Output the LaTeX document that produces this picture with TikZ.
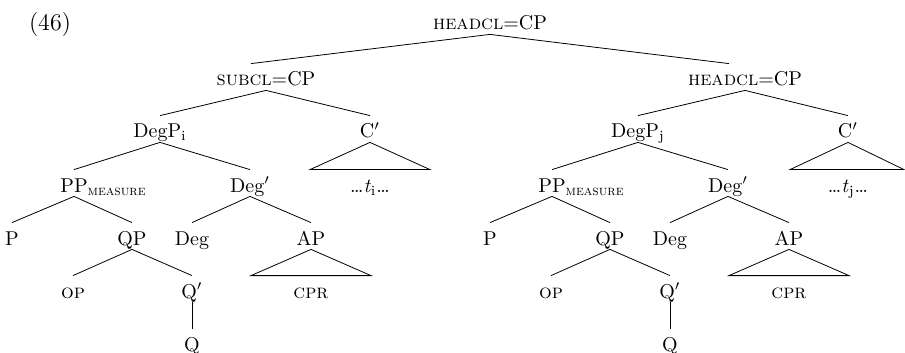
\documentclass[tikz,border=0pt]{standalone}
\usetikzlibrary{calc}
\begin{document}
\begin{tikzpicture}[x=0.5pt,y=-0.5pt,
  lbl/.style={anchor=base,inner sep=0pt,text height=11pt,text depth=2pt},
  tri/.style={line join=miter}]
\useasboundingbox (0,0) rectangle (905,353);
\node[anchor=base,inner sep=0pt] (ex) at (50,31) {\large(46)};

\node[lbl] (top) at (490,30) {\textsc{headcl}=CP};
\node[lbl] (subcl) at (266,86) {\textsc{subcl}=CP};
\node[lbl] (headcl) at (745,86) {\textsc{headcl}=CP};
\draw (top.south) -- ($(subcl.north)+(-15,0)$);
\draw (top.south) -- ($(headcl.north)+(-16,0)$);

% left clause
\node[lbl] (dpL) at (160,138) {DegP\textsubscript{i}};
\node[lbl] (cbL) at (370,138) {C$'$};
\node[lbl] (ppL) at (74,192) {PP\rlap{\textsubscript{\textsc{measure}}}};
\node[lbl] (dbL) at (250,192) {Deg$'$};
\node[lbl] (tL) at (370,192) {\ldots\textit{t}\textsubscript{i}\ldots};
\node[lbl] (pL) at (12,245) {P};
\node[lbl] (qpL) at (132,245) {QP};
\node[lbl] (degL) at (192,245) {Deg};
\node[lbl] (apL) at (311,245) {AP};
\node[lbl] (opL) at (73,298) {\textsc{op}};
\node[lbl] (qbL) at (192,298) {Q$'$};
\node[lbl] (cprL) at (311,298) {\textsc{cpr}};
\node[lbl] (qL) at (192,351) {Q};
\draw (subcl.south) -- (dpL.north);
\draw (subcl.south) -- (cbL.north);
\draw (dpL.south) -- (ppL.north);
\draw (dpL.south) -- (dbL.north);
\draw[tri] (cbL.south) -- ($(tL.north)+(-60,0)$) -- ($(tL.north)+(60,0)$) -- cycle;
\draw (ppL.south) -- (pL.north);
\draw (ppL.south) -- (qpL.north);
\draw (dbL.south) -- (degL.north);
\draw (dbL.south) -- (apL.north);
\draw (qpL.south) -- (opL.north);
\draw (qpL.south) -- (qbL.north);
\draw[tri] (apL.south) -- ($(cprL.north)+(-60,0)$) -- ($(cprL.north)+(60,0)$) -- cycle;
\draw (qbL.south) -- (qL.north);

% right clause
\node[lbl] (dpR) at (638,138) {DegP\textsubscript{j}};
\node[lbl] (cbR) at (848,138) {C$'$};
\node[lbl] (ppR) at (552,192) {PP\rlap{\textsubscript{\textsc{measure}}}};
\node[lbl] (dbR) at (728,192) {Deg$'$};
\node[lbl] (tR) at (848,192) {\ldots\textit{t}\textsubscript{j}\ldots};
\node[lbl] (pR) at (490,245) {P};
\node[lbl] (qpR) at (610,245) {QP};
\node[lbl] (degR) at (670,245) {Deg};
\node[lbl] (apR) at (789,245) {AP};
\node[lbl] (opR) at (551,298) {\textsc{op}};
\node[lbl] (qbR) at (670,298) {Q$'$};
\node[lbl] (cprR) at (789,298) {\textsc{cpr}};
\node[lbl] (qR) at (670,351) {Q};
\draw (headcl.south) -- (dpR.north);
\draw (headcl.south) -- (cbR.north);
\draw (dpR.south) -- (ppR.north);
\draw (dpR.south) -- (dbR.north);
\draw[tri] (cbR.south) -- ($(tR.north)+(-58,0)$) -- ($(tR.north)+(56,0)$) -- cycle;
\draw (ppR.south) -- (pR.north);
\draw (ppR.south) -- (qpR.north);
\draw (dbR.south) -- (degR.north);
\draw (dbR.south) -- (apR.north);
\draw (qpR.south) -- (opR.north);
\draw (qpR.south) -- (qbR.north);
\draw[tri] (apR.south) -- ($(cprR.north)+(-60,0)$) -- ($(cprR.north)+(60,0)$) -- cycle;
\draw (qbR.south) -- (qR.north);
\end{tikzpicture}
\end{document}
